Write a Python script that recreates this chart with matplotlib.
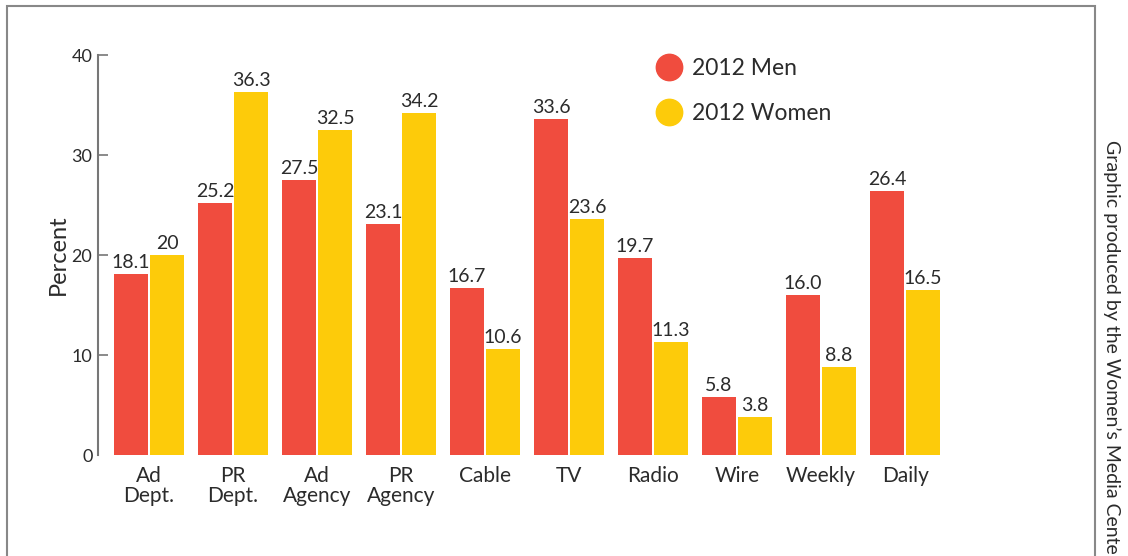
import matplotlib.pyplot as plt
import numpy as np
from matplotlib.lines import Line2D
from matplotlib.patches import Rectangle

categories = ["Ad\nDept.", "PR\nDept.", "Ad\nAgency", "PR\nAgency", "Cable",
              "TV", "Radio", "Wire", "Weekly", "Daily"]
men = [18.1, 25.2, 27.5, 23.1, 16.7, 33.6, 19.7, 5.8, 16.0, 26.4]
women = [20, 36.3, 32.5, 34.2, 10.6, 23.6, 11.3, 3.8, 8.8, 16.5]
men_labels = ["18.1", "25.2", "27.5", "23.1", "16.7", "33.6", "19.7", "5.8", "16.0", "26.4"]
women_labels = ["20", "36.3", "32.5", "34.2", "10.6", "23.6", "11.3", "3.8", "8.8", "16.5"]
yticks = [0, 10, 20, 30, 40]

RED = "#f04c3e"
YELLOW = "#fdcb0a"
TEXT = "#2b2b2b"
AXIS = "#777777"

plt.rcParams["font.family"] = ["Lato", "DejaVu Sans"]
plt.rcParams["font.weight"] = "normal"

fig = plt.figure(figsize=(11.28, 5.56), dpi=100)
ax = fig.add_axes([98 / 1128, 101 / 556, (1000 - 98) / 1128, 400 / 556])

x = np.arange(len(categories))
w = 0.405
off = 0.214
bm = ax.bar(x - off, men, w, color=RED, linewidth=0)
bw = ax.bar(x + off, women, w, color=YELLOW, linewidth=0)

for bars, labels in ((bm, men_labels), (bw, women_labels)):
    for rect, lab in zip(bars, labels):
        ax.text(rect.get_x() + rect.get_width() / 2, rect.get_height() + 0.3, lab,
                ha="center", va="bottom", fontsize=14, color=TEXT)

ax.set_xlim(-0.607, 10.13)
ax.set_ylim(0, 40)
ax.set_yticks(yticks)
ax.set_yticklabels([str(t) for t in yticks], fontsize=13, color=TEXT)
ax.tick_params(axis="y", direction="in", length=7, width=1.2, color=AXIS, pad=4)
ax.yaxis.get_major_ticks()[0].tick1line.set_visible(False)
ax.set_xticks(x)
ax.set_xticklabels(categories, fontsize=15, color=TEXT, linespacing=1.0)
ax.tick_params(axis="x", length=0, pad=8)

for side in ("top", "right", "bottom"):
    ax.spines[side].set_visible(False)
ax.spines["left"].set_color(AXIS)
ax.spines["left"].set_linewidth(1.5)

ax.set_ylabel("Percent", fontsize=17, color=TEXT, labelpad=2)

handles = [
    Line2D([], [], marker="o", linestyle="none", markersize=19, color=RED, label="2012 Men"),
    Line2D([], [], marker="o", linestyle="none", markersize=19, color=YELLOW, label="2012 Women"),
]
ax.legend(handles=handles, loc="upper left", bbox_to_anchor=(0.585, 1.045),
          frameon=False, fontsize=16.5, handletextpad=0.0, labelspacing=1.05,
          labelcolor=TEXT)

# outer frame, open at the bottom
fig.patches.append(Rectangle((7 / 1128, -0.1), (1095 - 7) / 1128, 1.1 - 6 / 556,
                             transform=fig.transFigure, fill=False,
                             edgecolor="#888888", linewidth=1.5))

fig.text(1112 / 1128, 1 - 140 / 556, "Graphic produced by the Women\u2019s Media Center",
         rotation=-90, ha="center", va="top", fontsize=14, color=TEXT)

fig.savefig("out.png", dpi=100)
